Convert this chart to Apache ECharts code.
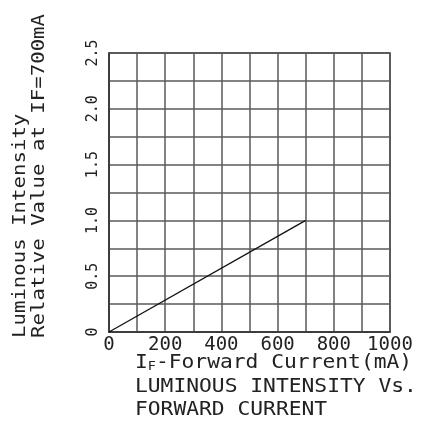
<!DOCTYPE html>
<html>
<head>
<meta charset="utf-8">
<script src="https://cdn.jsdelivr.net/npm/echarts@6/dist/echarts.min.js"></script>
<style>
html,body{margin:0;padding:0;background:#fff;}
#c{width:425px;height:425px;}
</style>
</head>
<body>
<div id="c"></div>
<script>
// Data
var currentMA = [0, 700];
var relIntensity = [0, 1.0];
var xTicks = ['0', '200', '400', '600', '800', '1000'];
var yTicks = ['0', '0.5', '1.0', '1.5', '2.0', '2.5'];
var yTitle1 = 'Luminous Intensity';
var yTitle2 = 'Relative Value at IF=700mA';
var xTitle1a = 'I';
var xTitle1b = 'F';
var xTitle1c = '-Forward Current(mA)';
var caption1 = 'LUMINOUS INTENSITY Vs.';
var caption2 = 'FORWARD CURRENT';

var FONT = '"DejaVu Sans Mono", "Liberation Mono", monospace';
var TXT = '#222';

var chart = echarts.init(document.getElementById('c'), null, {renderer: 'canvas'});
var pts = currentMA.map(function (x, i) { return [x, relIntensity[i]]; });

chart.setOption({
  animation: false,
  backgroundColor: '#fff',
  grid: {left: 109, top: 53, width: 281, height: 279, show: true, borderColor: '#333', borderWidth: 1.5, backgroundColor: 'transparent'},
  xAxis: {
    type: 'value', min: 0, max: 1000, interval: 100,
    axisLine: {show: true, lineStyle: {color: '#333', width: 1.5}},
    axisTick: {show: false},
    splitLine: {show: true, lineStyle: {color: '#5a5a5a', width: 1.5}},
    axisLabel: {
      margin: 4, color: TXT, fontFamily: FONT, fontSize: 19,
      formatter: function (v) { var s = String(v); return xTicks.indexOf(s) >= 0 ? s : ''; },
      showMinLabel: true, showMaxLabel: true
    }
  },
  yAxis: {
    type: 'value', min: 0, max: 2.5, interval: 0.25,
    axisLine: {show: true, lineStyle: {color: '#333', width: 1.5}},
    axisTick: {show: false},
    splitLine: {show: true, lineStyle: {color: '#5a5a5a', width: 1.5}},
    axisLabel: {
      rotate: 90, margin: 8, color: TXT, fontFamily: FONT, fontSize: 15,
      formatter: function (v) {
        var s = (Math.round(v * 100) / 100);
        var str = s === 0 ? '0' : s.toFixed(1);
        if (Math.abs(s * 2 - Math.round(s * 2)) > 1e-6) return '';
        return yTicks.indexOf(str) >= 0 ? str : '';
      }
    }
  },
  series: [{
    type: 'line', data: pts, showSymbol: false, symbol: 'none',
    lineStyle: {color: '#111', width: 1.3}, z: 5
  }],
  graphic: [
    {type: 'text', x: 29, y: 338, rotation: Math.PI / 2, scaleX: 1.15,
     style: {text: yTitle1, font: '18px ' + FONT, fill: TXT, textAlign: 'left', textVerticalAlign: 'bottom'}},
    {type: 'text', x: 48, y: 338, rotation: Math.PI / 2, scaleX: 1.15,
     style: {text: yTitle2, font: '18px ' + FONT, fill: TXT, textAlign: 'left', textVerticalAlign: 'bottom'}},
    {type: 'text', x: 135, y: 363, scaleX: 1.12,
     style: {text: '{a|' + xTitle1a + '}{b|' + xTitle1b + '}{a|' + xTitle1c + '}', textVerticalAlign: 'middle', textAlign: 'left',
       rich: {a: {fontFamily: FONT, fontSize: 19, fill: TXT, color: TXT}, b: {fontFamily: FONT, fontSize: 12, color: TXT, fill: TXT, verticalAlign: 'bottom'}}}},
    {type: 'text', x: 135, y: 387, scaleX: 1.12,
     style: {text: caption1, font: '19px ' + FONT, fill: TXT, textAlign: 'left', textVerticalAlign: 'middle'}},
    {type: 'text', x: 135, y: 410, scaleX: 1.12,
     style: {text: caption2, font: '19px ' + FONT, fill: TXT, textAlign: 'left', textVerticalAlign: 'middle'}}
  ]
});
</script>
</body>
</html>
